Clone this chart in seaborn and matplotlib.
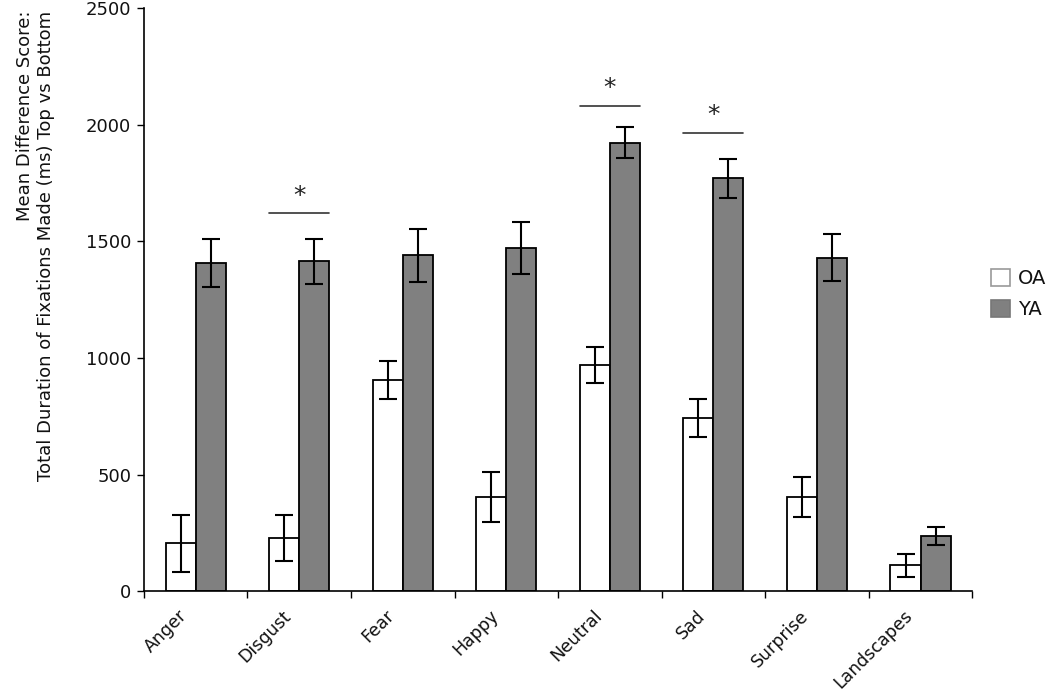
import matplotlib
matplotlib.use("Agg")
import matplotlib.pyplot as plt
from matplotlib.patches import Patch
from matplotlib.ticker import FixedLocator
from matplotlib.transforms import ScaledTranslation, blended_transform_factory
import seaborn as sns
import pandas as pd
import numpy as np

categories = ['Anger', 'Disgust', 'Fear', 'Happy', 'Neutral', 'Sad', 'Surprise', 'Landscapes']
groups = ['OA', 'YA']
oa_mean = [205, 229, 905, 404, 969, 743, 404, 111]
oa_err = [122, 98, 82, 108, 78, 83, 86, 50]
ya_mean = [1408, 1415, 1440, 1472, 1924, 1770, 1431, 237]
ya_err = [104, 97, 115, 110, 66, 83, 100, 40]
sig_categories = ['Disgust', 'Neutral', 'Sad']
sig_line_y = [1620, 2080, 1965]
yticks = [0, 500, 1000, 1500, 2000, 2500]
ylabel = 'Mean Difference Score:\nTotal Duration of Fixations Made (ms) Top vs Bottom'

df = pd.DataFrame({
    'Category': categories * 2,
    'Group': ['OA'] * len(categories) + ['YA'] * len(categories),
    'Value': oa_mean + ya_mean,
})
errs = {'OA': oa_err, 'YA': ya_err}

sns.set_theme(style='white')
plt.rcParams['font.family'] = ['DejaVu Sans']
plt.rcParams['text.color'] = '#111111'
plt.rcParams['axes.labelcolor'] = '#111111'
plt.rcParams['xtick.color'] = '#111111'
plt.rcParams['ytick.color'] = '#111111'

fig = plt.figure(figsize=(10.5, 6.93), dpi=100)
ax = fig.add_axes([0.137, 0.147, 0.789, 0.841])

colors = {'OA': '#ffffff', 'YA': '#808080'}
sns.barplot(data=df, x='Category', y='Value', hue='Group', order=categories,
            hue_order=groups, palette=colors, edgecolor='black', linewidth=1.3,
            width=0.58, gap=0, errorbar=None, legend=False, ax=ax, saturation=1)

for g, cont in zip(groups, ax.containers):
    xs = [b.get_x() + b.get_width() / 2 for b in cont]
    hs = [b.get_height() for b in cont]
    ax.errorbar(xs, hs, yerr=errs[g], fmt='none', ecolor='black',
                elinewidth=1.5, capsize=6.5, capthick=1.5, zorder=5)

# significance markers
for cat, y in zip(sig_categories, sig_line_y):
    i = categories.index(cat)
    ax.plot([i - 0.29, i + 0.29], [y, y], color='#333333', lw=1.2, clip_on=False)
    ax.text(i, y + 25, '*', ha='center', va='bottom', fontsize=18, color='#222222')

ax.set_xlim(-0.5, len(categories) - 0.5)
ax.set_ylim(0, 2500)
ax.set_yticks(yticks)
ax.set_yticklabels([str(t) for t in yticks], fontsize=13)
ax.set_xticks(range(len(categories)))
ax.set_xticklabels([])
# category labels, rotated, placed slightly left of the category centre
trans = blended_transform_factory(ax.transData, ax.transAxes) + \
    ScaledTranslation(-0.11, -0.22, fig.dpi_scale_trans)
for i, cat in enumerate(categories):
    ax.text(i, 0, cat, transform=trans, rotation=45, rotation_mode='anchor',
            ha='right', va='center', fontsize=12.5)
ax.xaxis.set_minor_locator(FixedLocator(np.arange(-0.5, len(categories), 1.0)))
ax.tick_params(axis='x', which='major', length=0)
ax.tick_params(axis='x', which='minor', length=5, width=1, color='black', direction='out', bottom=True)
ax.tick_params(axis='y', which='major', length=5, width=1, color='black', direction='out', left=True, labelsize=13, pad=4)

ax.set_xlabel('')
ax.set_ylabel(ylabel, fontsize=13, multialignment='right')
ax.yaxis.set_label_coords(-0.107, 0.593)

for s in ['top', 'right']:
    ax.spines[s].set_visible(False)
for s in ['left', 'bottom']:
    ax.spines[s].set_color('black')
    ax.spines[s].set_linewidth(1.2)

handles = [Patch(facecolor=colors['OA'], edgecolor='#999999', linewidth=1.2, label='OA'),
           Patch(facecolor=colors['YA'], edgecolor='#777777', linewidth=1.2, label='YA')]
ax.legend(handles=handles, loc='center left', bbox_to_anchor=(1.022, 0.51),
          frameon=False, fontsize=14, handlelength=1.0, handleheight=1.0,
          handletextpad=0.4, borderaxespad=0, borderpad=0, labelspacing=0.6)

fig.savefig('out.png', dpi=100, facecolor='white')
